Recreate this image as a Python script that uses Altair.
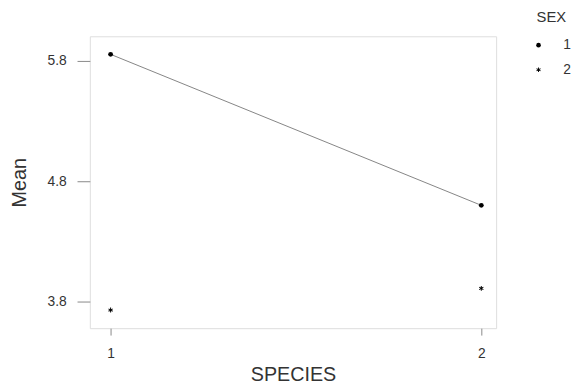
import altair as alt
import pandas as pd

species = [1, 2, 1, 2]
sex = ["1", "1", "2", "2"]
mean = [5.855, 4.60, 3.73, 3.91]

df = pd.DataFrame({"SPECIES": species, "SEX": sex, "Mean": mean})

# filled six-armed asterisk (three thin bars)
asterisk = (
    "M-0.2,-1L0.2,-1L0.2,1L-0.2,1Z"
    "M0.766,-0.673L0.966,-0.327L-0.766,0.673L-0.966,0.327Z"
    "M-0.966,-0.327L-0.766,-0.673L0.966,0.327L0.766,0.673Z"
)

FONT = "Liberation Sans"

x_enc = alt.X(
    "SPECIES:Q",
    scale=alt.Scale(domain=[0.944, 2.04], nice=False, zero=False),
    axis=alt.Axis(
        values=[1, 2], format="d", title="SPECIES", domain=False, grid=False,
        tickSize=7, tickColor="#888", labelPadding=12, labelFontSize=14,
        labelColor="#333", labelFont=FONT, titleFont=FONT, titleFontSize=20,
        titleFontWeight="normal", titleColor="#333", titleX=206, titleY=47,
        titleBaseline="middle", titleAlign="center",
    ),
)
y_enc = alt.Y(
    "Mean:Q",
    scale=alt.Scale(domain=[3.579, 6.005], nice=False, zero=False),
    axis=alt.Axis(
        values=[3.8, 4.8, 5.8], format=".1f", title="Mean", domain=False, grid=False,
        tickSize=13, tickColor="#888", labelPadding=11, labelFontSize=14,
        labelColor="#333", labelFont=FONT, titleFont=FONT, titleFontSize=20,
        titleFontWeight="normal", titleColor="#333", titleX=-71, titleY=148,
        titleBaseline="middle", titleAlign="center", titleAngle=270,
    ),
)

line = alt.Chart(df).transform_filter(alt.datum.SEX == "1").mark_line(
    color="#777", strokeWidth=0.9
).encode(x=x_enc, y=y_enc)

points = alt.Chart(df).mark_point(
    filled=True, color="black", size=24, opacity=1
).encode(
    x=x_enc,
    y=y_enc,
    shape=alt.Shape(
        "SEX:N",
        scale=alt.Scale(domain=["1", "2"], range=["circle", asterisk]),
        legend=alt.Legend(
            title="SEX", orient="none", legendX=448, legendY=-26,
            titleFont=FONT, titleFontSize=15, titleFontWeight="normal",
            titleColor="#333", titlePadding=13, titleAnchor="middle",
            labelFont=FONT,
            labelFontSize=14, labelColor="#333", labelOffset=18,
            rowPadding=11, symbolSize=22, symbolFillColor="black",
            symbolStrokeColor="black", symbolOpacity=1,
        ),
    ),
)

chart = alt.layer(line, points).properties(
    width=412,
    height=296,
    autosize=alt.AutoSizeParams(type="none"),
    padding={"left": 83, "top": 26, "right": 81, "bottom": 59},
).configure_view(
    stroke="#888", strokeWidth=1
).configure(background="white")

chart.save("out.html", embed_options={"renderer": "svg", "actions": False})
